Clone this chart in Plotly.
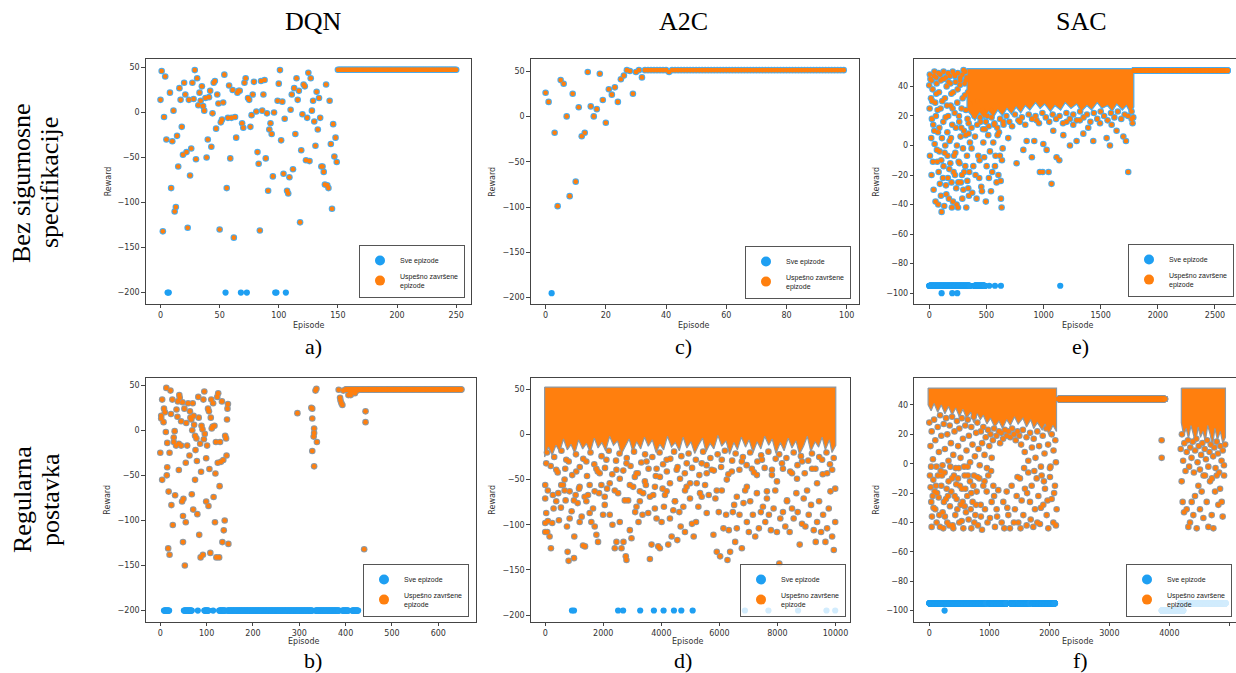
import plotly.graph_objects as go

W, H = 1236, 673
BLUE = '#1E9FF2'
ORANGE = '#FF7F0E'
RIM_BLUE = '#4AADEF'
RIM_GREY = '#8E99A3'

# ---------------- data ----------------
# a) DQN - bez sigurnosne specifikacije
a_ok = [(0,14),(1,46),(2,-132),(3,-5),(4,40),(5,-30),(8,22),(9,-84),(10,-32),(11,2),(12,-110),(13,-105),(14,-26),(15,-60),(16,27),(17,14),(18,-16),(19,-47),(20,33),(21,20),(22,-44),(23,-128),(24,14),(25,-70),(26,-40),(27,33),(28,15),(29,47),(30,-52),(31,38),(32,8),(33,22),(34,13),(35,29),(36,7),(37,2),(38,16),(39,-50),(40,-30),(41,17),(42,24),(43,-38),(44,-1),(45,33),(46,35),(47,-18),(48,20),(49,10),(50,-130),(51,-11),(52,-8),(53,11),(54,42),(56,-84),(57,-6),(58,30),(59,-51),(60,-6),(61,25),(62,-139),(63,-5),(64,-28),(65,22),(66,24),(67,24),(69,-12),(70,-17),(71,33),(72,38),(74,16),(75,14),(76,-16),(77,-3),(78,20),(79,34),(81,1),(82,-44),(83,-57),(84,-131),(85,35),(86,2),(87,20),(88,36),(89,-51),(90,-1),(91,-87),(92,-19),(93,-12),(94,-24),(95,-71),(96,0),(99,13),(100,32),(101,47),(102,-31),(103,12),(104,-68),(105,-7),(107,-87),(108,-90),(109,-72),(110,3),(111,20),(112,-63),(113,27),(114,-24),(115,38),(116,14),(117,24),(118,-122),(119,-42),(120,-2),(121,31),(122,29),(123,-53),(124,-6),(125,44),(126,-54),(127,38),(128,2),(129,13),(130,-10),(131,-37),(132,23),(133,-19),(134,16),(135,-6),(136,-60),(137,-60),(138,-66),(139,-80),(140,31),(141,-81),(142,-84),(143,13),(144,-35),(145,-107),(146,-13),(147,-49),(148,-28),(149,-55)]
a_ok_runs = [(150, 250, 47.4)]
a_fail = [(6,-200),(7,-200),(55,-200),(68,-200),(73,-200),(97,-200),(98,-200),(106,-200)]
a_fail_runs = []

# c) A2C - bez sigurnosne specifikacije
c_ok_x = [0,1,3,4,5,6,7,8,9,10,11,12,13,14,15,16,17,18,19,20,21,22,23,24,25,26,27,28,29,30,31,32,41]
c_ok_y = [26,16,-18,-99,40,36,0,-88,25,-72,10,-22,-18,49,11,0,8,47,18,-7,30,24,32,16,41,45,51,50,25,49,51,43,49]
c_ok_runs = [(33, 40, 51), (42, 99, 51)]
c_fail = [(2,-195)]
c_fail_runs = []

# e) SAC - bez sigurnosne specifikacije
e_ok = [(0,40.7),(6,-7),(15,32),(17,5),(23,18),(29,38),(35,14),(32,-11),(41,47),(47,1),(52,29),(58,20),(64,42),(70,-11),(76,9),(82,-18),(85,36),(90,-4),(93,-26),(99,25),(102,-34),(108,-45),(111,5),(117,45),(123,16),(125,-14),(131,-41),(137,32),(140,0),(146,-27),(152,40),(158,9),(160,-7),(166,20),(172,-36),(175,-16),(181,47),(187,27),(190,5),(195,-25),(201,14),(207,-38),(210,36),(216,-7),(222,22),(225,-20),(230,43),(236,-29),(242,0),(245,29),(251,-42),(257,-11),(262,16),(268,41),(274,6),(277,-25),(283,25),(289,-36),(295,-2),(300,51),(306,-18),(312,34),(318,7),(324,-42),(330,-7),(335,18),(341,-29),(347,-34),(356,2),(370,-2),(385,-14),(400,6),(414,-36),(429,-7),(437,-22),(449,16),(461,-31),(473,2),(487,11),(502,-14),(516,7),(531,-4),(540,-31),(551,-18),(560,2),(569,14),(580,-7),(589,-25),(598,7),(610,9),(618,-7),(627,-36),(633,-42),(642,-2),(648,16),
        (3,25),(10,45),(20,-20),(26,30),(38,-30),(44,10),(55,-38),(61,35),(67,-3),(73,24),(79,-40),(88,12),(96,48),(105,-10),(114,30),(120,-22),(128,45),(134,-5),(143,19),(149,-33),(155,27),(163,-22),(169,43),(178,3),(184,-12),(193,35),(198,-42),(204,25),(213,-18),(219,48),(228,-5),(233,12),(239,-40),(248,38),(254,-25),(260,20),(265,-12),(271,46),(280,12),(286,-20),(292,32),(298,-30),(303,10),(309,42),(315,-14),(321,24),(327,46),(333,-24),(338,36),(344,8),(350,-18),(362,28),(376,-32),(392,22),(405,-20),(420,30),(440,-10),(455,-28),(468,24),(480,-8),(495,-38),(508,20),(522,-22),(545,24),(575,-14),(605,-20),(625,-24),(636,-10),
        (5,48),(20,44),(45,50),(60,46),(80,49),(100,44),(125,50),(145,46),(165,49),(185,42),(205,50),(225,47),(250,49),(270,44),(290,48),(315,50),(320,44),
        (345,15),(370,12),(395,20),(420,14),(445,19),(470,11),(495,16),(520,13),(545,19),(570,15),(595,12),(620,18),(650,14),(675,20),(700,16),(725,13),(750,21),(780,17),(810,19),(840,14),(870,21),(900,18),(930,20),(960,15),(990,22),(1020,19),(1050,16),(1080,21),(1110,18),(1140,20),(1170,15),(1200,22),(1230,18),(1260,21),(1290,17),(1320,23),(1350,19),(1380,21),(1410,16),(1440,22),(1470,18),(1500,23),(1530,20),(1560,17),(1590,22),(1620,19),(1650,23),(1680,18),(1710,21),(1740,20),(1770,23),(1785,19),
        (691,5),(764,-12),(793,16),(823,-3),(852,3),(898,-8),(919,3),(939,17),(968,-18),(992,-18),(998,1),(1027,-3),(1044,-18),(1070,-26),(1085,10),(1114,-8),(1138,-10),(1173,7),(1202,16),(1231,0),(1260,14),(1289,3),(1318,17),(1348,8),(1391,12),(1435,3),(1494,15),(1552,5),(1581,0),(1596,14),(1639,10),(1698,6),(1721,3),(1741,-18),(1771,18),(1779,15)]
e_ok_runs = [(1790, 2611, 50.8)]
# saturated band of successful episodes, outline in (episode, reward)
e_dense = [[(330,52),(1790,52),(1790,26),(1760,22),(1725,27),(1690,24),(1640,28),(1600,23),(1560,27),(1510,25),(1470,29),(1420,24),(1380,27),(1330,23),(1290,28),(1240,25),(1190,29),(1150,24),(1100,27),(1060,23),(1010,28),(970,25),(930,29),(880,24),(840,27),(800,22),(760,26),(720,21),(680,25),(640,20),(600,24),(560,19),(520,23),(480,18),(440,22),(400,17),(360,21),(330,24)]]
e_fail = [(525,-95),(575,-95),(627,-95),(1146,-95),(108,-100),(201,-100),(245,-100)]
e_fail_runs = [(0, 356, -95), (394, 487, -95)]

# b) DQN - regularna postavka
b_ok = [(0,-25),(2,16),(2,13),(4,-55),(4,34),(7,9),(8,24),(10,20),(12,-2),(13,47),(14,-50),(15,-41),(15,-14),(17,-131),(18,-68),(20,-138),(20,-25),(22,44),(23,18),(24,-83),(26,34),(27,-105),(29,-13),(29,-8),(31,-1),(32,-72),(34,-17),(35,23),(37,15),(38,32),(40,-15),(40,-44),(41,39),(42,36),(45,10),(45,-17),(47,-79),(48,31),(49,-95),(49,-124),(50,-76),(52,24),(53,-150),(55,-36),(55,-102),(56,8),(58,-17),(60,30),(63,-28),(64,21),(65,14),(67,12),(68,-71),(69,0),(70,30),(71,-88),(72,16),(73,6),(75,-6),(75,-55),(76,-22),(78,-9),(79,-34),(80,-93),(82,37),(83,14),(84,-116),(86,-15),(87,-141),(88,-46),(89,5),(91,1),(92,-138),(93,34),(94,-10),(95,43),(96,-4),(99,-31),(99,-79),(101,-17),(103,24),(104,-84),(105,21),(106,-43),(108,-136),(109,14),(110,34),(111,2),(113,4),(114,30),(115,-74),(117,5),(118,-102),(119,-48),(120,-13),(121,-141),(123,37),(124,-36),(125,41),(127,-141),(128,-62),(129,-13),(131,-35),(133,32),(134,-124),(136,-33),(137,-111),(139,-100),(140,-6),(142,-9),(143,-28),(144,12),(145,24),(146,29),(147,-126),
        (296,19),(326,25),(328,24),(328,13),(328,-23),(331,-7),(332,2),(332,-3),(332,-40),(335,44),(337,46),(338,-13),
        (385,45),(388,36),(389,33),(391,30),(393,28),(395,44),(406,39),(411,39),(409,43),(414,43),(420,41),(425,44),(440,-132),(443,21),(443,9)]
b_ok_runs = [(400, 650, 45.2)]
b_fail = []
b_fail_runs = [(8,19,-200),(51,68,-200),(81,81,-200),(95,104,-200),(114,114,-200),(127,140,-200),(145,328,-200),(335,386,-200),(393,406,-200),(414,427,-200)]

# d) A2C - regularna postavka
d_ok = [(0,-56),(0,-71),(35,-87),(0,-98),(0,-108),(69,-108),(92,-96),(150,-113),(196,-126),(242,-98),(288,-82),(380,-74),(449,-65),(472,-95),(541,-81),(611,-56),(668,-62),(703,-73),(749,-102),(772,-130),(806,-140),(841,-93),(910,-85),(991,-137),(1002,-113),(1048,-67),(1117,-76),(1164,-60),(1187,-97),(1256,-91),(1302,-123),(1371,-124),(1417,-74),(1475,-67),(1532,-87),(1590,-97),(1647,-82),(1705,-102),(1763,-111),(1820,-119),(1855,-65),(1935,-56),(1993,-89),(2051,-78),(2131,-60),(2223,-89),(2316,-100),(2396,-126),(2454,-119),(2511,-65),(2569,-97),(2627,-126),(2696,-119),(2776,-135),(2799,-139),(2857,-73),(2915,-106),(2972,-115),(3030,-58),(3099,-86),(3145,-80),(3214,-97),(3260,-74),(3352,-89),(3375,-65),(3468,-56),(3548,-87),(3606,-138),(3663,-122),(3721,-67),(3778,-82),(3836,-93),(3894,-124),(3951,-126),(4009,-97),(4044,-60),(4090,-80),(4182,-63),(4239,-122),(4297,-93),(4355,-113),(4412,-84),(4470,-74),(4550,-117),(4620,-86),(4666,-102),(4758,-80),(4815,-108),(4873,-58),(4988,-71),(5057,-99),(5115,-113),(5196,-97),(5276,-80),(5334,-65),(5391,-69),(5507,-56),(5564,-87),(5633,-67),(5795,-111),(5864,-71),(5910,-130),(5979,-86),(6025,-135),(6083,-62),(6140,-104),(6232,-89),(6278,-139),(6325,-106),(6370,-130),(6463,-86),(6509,-78),(6544,-119),(6601,-104),(6693,-89),(6774,-126),(6831,-76),(6889,-62),(6947,-97),(7016,-108),(7062,-74),(7154,-89),(7235,-113),(7292,-65),(7361,-104),(7430,-86),(7500,-80),(7580,-97),(7638,-71),(7707,-89),(7776,-106),(7868,-82),(7926,-62),(7983,-108),(8064,-143),(8099,-93),(8191,-86),(8271,-102),(8329,-74),(8421,-108),(8502,-82),(8559,-93),(8652,-65),(8698,-86),(8767,-122),(8847,-99),(8905,-71),(8963,-102),(9078,-89),(9158,-78),(9251,-106),(9320,-119),(9366,-97),(9435,-74),(9504,-108),(9573,-89),(9654,-119),(9711,-104),(9769,-82),(9827,-63),(9884,-113),(9942,-128),(9990,-97),
        (91,-62),(264,-67),(552,-56),(667,-50),(840,-63),(990,-73),(1186,-58),(1359,-69),(1531,-56),(1704,-63),(1877,-43),(2050,-69),(2223,-54),(2396,-62),(2569,-49),(2742,-73),(2915,-56),(3088,-47),(3261,-63),(3434,-52),(3607,-69),(3780,-58),(3952,-47),(4125,-67),(4298,-54),(4471,-74),(4644,-49),(4817,-62),(4990,-54),
        (34,-32),(380,-39),(725,-28),(1071,-41),(1417,-30),(1762,-38),(2108,-28),(2454,-39),(2800,-32),(3146,-43),(3491,-30),(3837,-38),(4183,-28),(4529,-39),(4875,-32),
        (5219,-54),(5564,-43),(5910,-62),(6256,-50),(6601,-69),(6947,-58),(7293,-45),(7638,-63),(7984,-52),(8330,-73),(8675,-49),(9021,-62),(9366,-54),(9712,-43),(9990,-60),
        (5392,-32),(5737,-39),(6083,-28),(6429,-41),(6774,-30),(7120,-38),(7466,-28),(7811,-39),(8157,-32),(8503,-43),(8848,-30),(9194,-38),(9539,-28),(9885,-39),
        (60,-20),(190,-35),(310,-25),(430,-42),(560,-18),(690,-38),(810,-30),(930,-45),(1060,-22),(1190,-36),(1310,-27),(1440,-46),(1560,-20),(1690,-33),(1810,-41),(1940,-24),(2060,-37),(2190,-18),(2310,-44),(2440,-29),(2560,-21),(2690,-40),(2810,-26),(2940,-35),(3060,-19),(3190,-43),(3310,-31),(3440,-22),(3560,-38),(3690,-25),(3810,-46),(3940,-20),(4060,-33),(4190,-41),(4310,-27),(4440,-19),(4560,-36),(4690,-24),(4810,-43),(4940,-21),(5060,-37),(5190,-28),(5310,-45),(5440,-19),(5560,-34),(5690,-26),(5810,-40),(5940,-22),(6060,-36),(6190,-18),(6310,-44),(6440,-29),(6560,-21),(6690,-39),(6810,-25),(6940,-34),(7060,-20),(7190,-42),(7310,-30),(7440,-23),(7560,-37),(7690,-19),(7810,-45),(7940,-27),(8060,-22),(8190,-38),(8310,-26),(8440,-41),(8560,-20),(8690,-34),(8810,-24),(8940,-43),(9060,-29),(9190,-21),(9310,-38),(9440,-25),(9560,-44),(9690,-20),(9810,-33),(9940,-26)]
d_ok_runs = []
d_dense = [[(-20,52.5),(10010,52.5),(10010,-12),(9880,-20),(9790,-6),(9650,-17),(9540,-3),(9420,-14),(9300,-8),(9150,-19),(9030,-2),(8900,-13),(8760,-22),(8640,-7),(8500,-15),(8370,-4),(8230,-18),(8100,-9),(7950,-21),(7820,-5),(7700,-12),(7560,-2),(7430,-16),(7300,-8),(7160,-20),(7020,-6),(6900,-14),(6760,-3),(6620,-17),(6500,-9),(6350,-22),(6230,-7),(6080,-13),(5950,-1),(5810,-16),(5680,-10),(5540,-19),(5420,-4),(5280,-12),(5150,-21),(5020,-8),(4880,-15),(4750,-3),(4620,-18),(4480,-9),(4350,-14),(4210,-2),(4080,-17),(3950,-11),(3820,-20),(3690,-6),(3550,-13),(3420,-3),(3290,-16),(3150,-8),(3020,-19),(2890,-5),(2750,-14),(2620,-22),(2490,-7),(2350,-12),(2220,-2),(2080,-18),(1950,-9),(1820,-15),(1690,-4),(1550,-20),(1420,-10),(1290,-16),(1150,-6),(1020,-21),(890,-11),(760,-17),(630,-5),(500,-19),(370,-12),(240,-23),(110,-14),(-20,-25)]]
d_fail = [(922,-195),(991,-195),(2511,-195),(2684,-195),(3272,-195),(3744,-195),(4078,-195),(4435,-195),(4689,-195),(5080,-195),(6880,-195),(7690,-195),(8710,-195),(9690,-195),(9990,-195)]
d_fail_runs = []

# f) SAC - regularna postavka
f_ok = [(11,-8),(22,-16),(33,-26),(44,-36),(39,-43),(67,-11),(89,-19),(100,-31),(122,-40),(144,-8),(156,-23),(178,-43),(200,-15),(222,-33),(233,-44),(255,-6),(278,-24),(300,-40),(322,-12),(344,-29),(367,-19),(389,-42),(411,-8),(433,-35),(456,-24),(478,-10),(500,-40),(522,-28),(544,-17),(567,-44),(589,-8),(611,-33),(633,-22),(655,-38),(678,-12),(700,-44),(722,-26),(744,-8),(767,-35),(789,-19),(811,-42),(833,-10),(856,-28),(878,-45),(900,-15),(928,-31),(956,-19),(983,-8),(1011,-37),(1039,-26),(1067,-15),(1094,-43),(1122,-31),(1150,-18),(1206,-40),(1233,-26),(1289,-19),(1317,-35),(1344,-44),(1372,-15),(1428,-31),(1456,-22),(1483,-40),(1511,-10),(1539,-25),(1567,-35),(1594,-17),(1622,-42),(1650,-6),(1678,-26),(1706,-15),(1733,-43),(1761,-31),(1789,-10),(1817,-22),(1844,-41),(1872,-8),(1900,-28),(1928,-17),(1956,-35),(1983,-44),(2011,-9),(2039,-24),(2067,-40),(2094,-15),(2122,-31),
        (56,-22),(111,-15),(167,-35),(211,-8),(244,-26),(289,-17),(333,-42),(378,-10),(422,-22),(467,-31),(511,-15),(555,-26),(600,-17),(644,-8),(689,-31),(733,-15),(778,-28),
        (0,28),(20,12),(40,22),(60,3),(80,30),(100,16),(120,-2),(140,25),(160,8),(180,33),(200,19),(220,-1),(240,27),(260,10),(280,31),(300,20),(320,2),(340,26),(360,14),(380,32),(400,6),(420,22),(440,-3),(460,29),(480,12),(500,24),(520,4),(540,31),(560,17),(580,-2),(600,26),(620,9),(640,30),(660,19),(680,1),(700,25),(720,13),(740,32),(760,5),(780,21),(800,28),(820,10),(840,-1),(860,22),(880,14),(900,25),(920,6),(940,18),(960,-3),(980,23),(1000,12),(1020,20),(1040,4),(1060,16),(1080,24),(1120,19),(1160,22),(1180,14),(1200,21),(1230,17),(1260,23),(1290,19),(1320,22),(1350,18),(1380,24),(1410,20),(1440,16),(1470,22),(1500,19),(1530,13),(1560,23),(1590,8),(1620,18),(1650,2),(1680,21),(1710,11),(1740,17),(1770,4),(1800,22),(1830,12),(1860,-2),(1890,19),(1920,7),(1950,24),(1980,13),(2010,-3),(2040,20),(2070,9),(2100,16),(2110,1),
        (30,-2),(70,-30),(130,-20),(190,-5),(260,-36),(310,-22),(350,-2),(400,-44),(450,-14),(490,-3),(540,-39),(590,-29),(640,-2),(700,-20),(750,-40),(800,-9),(860,-36),(920,-12),(970,-40),(1030,-5),(1080,-22),(1130,-36),(1250,-44),(1300,-30),(1410,-40),(1470,-9),(1520,-44),(1580,-3),(1630,-20),(1690,-38),(1750,-5),(1800,-40),(1860,-30),(1910,-12),(1970,-25),(2020,-2),(2080,-20),(2110,-42),
        (3872,16),(3872,4),
        (4206,-12),(4222,-26),(4245,-33),(4289,-31),(4317,-43),(4345,-40),(4373,-26),(4400,-35),(4428,-22),(4456,-44),(4484,-15),(4511,-31),(4539,-19),(4567,-37),(4595,-8),(4623,-26),(4651,-43),(4678,-12),(4706,-35),(4734,-44),(4762,-19),(4790,-8),(4817,-28),(4845,-17),(4873,-26),(4889,-36),(4912,-8),
        (4190,10),(4210,20),(4230,2),(4250,14),(4270,-5),(4290,8),(4310,16),(4330,-2),(4350,11),(4370,4),(4390,15),(4410,-6),(4430,9),(4450,17),(4470,1),(4490,12),(4510,-4),(4530,6),(4550,14),(4570,-8),(4590,10),(4610,3),(4630,16),(4650,-2),(4670,8),(4690,13),(4710,-10),(4730,5),(4750,11),(4770,-3),(4790,15),(4810,7),(4830,-6),(4850,12),(4870,2),(4890,9),(4910,-1),(4930,13)]
f_ok_runs = [(2150, 3928, 44)]
f_dense = [[(-20,51.5),(2120,51.5),(2120,22),(2060,26),(1990,20),(1930,27),(1880,23),(1800,28),(1740,24),(1690,30),(1620,25),(1560,31),(1480,27),(1420,32),(1350,26),(1290,30),(1220,24),(1160,29),(1090,25),(1020,31),(960,27),(900,33),(850,30),(800,34),(740,28),(690,35),(620,31),(560,37),(500,32),(440,38),(380,33),(320,39),(260,34),(200,40),(140,35),(80,41),(30,36),(-20,40)],
           [(4200,51.5),(4935,51.5),(4935,18),(4890,14),(4850,22),(4800,16),(4760,24),(4720,12),(4680,20),(4640,26),(4600,15),(4560,22),(4520,18),(4480,25),(4440,14),(4400,21),(4360,26),(4320,17),(4280,24),(4240,19),(4200,28)]]
f_fail = [(255,-100)]
f_fail_runs = [(0,955,-95),(1000,1289,-95),(1356,1678,-95),(1722,2094,-95),(4178,4939,-95),(3872,4233,-100)]

col_titles = ['DQN', 'A2C', 'SAC']
row_titles = [('Bez sigurnosne', 'specifikacije'), ('Regularna', 'postavka')]
panel_labels = ['a)', 'c)', 'e)', 'b)', 'd)', 'f)']
legend_names = ['Sve epizode', 'Uspešno završene<br>epizode']
x_title, y_title = 'Episode', 'Reward'


def expand_runs(runs):
    xs, ys = [], []
    for start, end, val in runs:
        for ep in range(start, end + 1):
            xs.append(ep)
            ys.append(val)
    return xs, ys


def pairs(p):
    return [q[0] for q in p], [q[1] for q in p]


a_x, a_y = pairs(a_ok)
e_x, e_y = pairs(e_ok)
b_x, b_y = pairs(b_ok)
d_x, d_y = pairs(d_ok)
f_x, f_y = pairs(f_ok)

panels = [
    dict(ok=(a_x, a_y), runs=a_ok_runs, dense=[], fail=a_fail, fruns=a_fail_runs, rim=RIM_BLUE,
         px=(145.7, 471.0, 59, 303.7), xr=[-12.5, 262.5], yr=[-212.35, 59.35], xd=50, yd=50, y0=-200,
         leg=(465, 298), ytx=108, etx=308, ety=325),
    dict(ok=(c_ok_x, c_ok_y), runs=c_ok_runs, dense=[], fail=c_fail, fruns=c_fail_runs, rim=RIM_BLUE,
         px=(530.7, 858.6, 59, 304.3), xr=[-4.95, 103.95], yr=[-207.3, 63.3], xd=20, yd=50, y0=-200,
         leg=(851, 299), ytx=493, etx=693, ety=325),
    dict(ok=(e_x, e_y), runs=e_ok_runs, dense=e_dense, fail=e_fail, fruns=e_fail_runs, rim=RIM_BLUE,
         px=(914.3, 1236, 59, 304.3), xr=[-131, 2684], yr=[-107.55, 58.55], xd=500, yd=20, y0=-100,
         leg=(1234, 297), ytx=877, etx=1077, ety=325),
    dict(ok=(b_x, b_y), runs=b_ok_runs, dense=[], fail=b_fail, fruns=b_fail_runs, rim=RIM_GREY,
         px=(145.7, 476.0, 377.7, 621.7), xr=[-31.5, 681.4], yr=[-212.3, 58.3], xd=100, yd=50, y0=-200,
         leg=(469, 617), ytx=108, etx=303, ety=641),
    dict(ok=(d_x, d_y), runs=d_ok_runs, dense=d_dense, fail=d_fail, fruns=d_fail_runs, rim=RIM_GREY,
         px=(530.7, 850.0, 377.7, 621.7), xr=[-500, 10500], yr=[-207.4, 62.9], xd=2000, yd=50, y0=-200,
         leg=(846, 617), ytx=493, etx=687, ety=641),
    dict(ok=(f_x, f_y), runs=f_ok_runs, dense=f_dense, fail=f_fail, fruns=f_fail_runs, rim=RIM_GREY,
         px=(914.3, 1236, 377.7, 621.7), xr=[-250, 5111], yr=[-107.55, 58.55], xd=1000, yd=20, y0=-100,
         leg=(1232, 617), ytx=877, etx=1077, ety=641),
]

fig = go.Figure()
layout = dict(width=W, height=H, margin=dict(l=0, r=0, t=0, b=0, autoexpand=False),
              paper_bgcolor='white', plot_bgcolor='white', showlegend=True)
annotations = []
TICKFONT = dict(family='DejaVu Sans', size=8, color='#333')
SMALL = dict(family='DejaVu Sans', size=8, color='#333')


def ann(text, px, py, font, angle=0):
    return dict(text=text, x=px / W, y=1 - py / H, xref='paper', yref='paper', showarrow=False,
                xanchor='center', yanchor='middle', textangle=angle, font=font)


for i, p in enumerate(panels):
    k = i + 1
    xa = 'x' if k == 1 else f'x{k}'
    ya = 'y' if k == 1 else f'y{k}'
    leg = 'legend' if k == 1 else f'legend{k}'
    ox, oy = p['ok']
    rx, ry = expand_runs(p['runs'])
    okx, oky = list(ox) + rx, list(oy) + ry
    fx = [q[0] for q in p['fail']]
    fy = [q[1] for q in p['fail']]
    frx, fry = expand_runs(p['fruns'])
    fx += frx
    fy += fry

    fig.add_trace(go.Scatter(x=okx, y=oky, mode='markers', xaxis=xa, yaxis=ya, showlegend=False,
                             marker=dict(size=6.6, color=p['rim'], line=dict(width=0)), hoverinfo='skip'))
    fig.add_trace(go.Scatter(x=fx, y=fy, mode='markers', xaxis=xa, yaxis=ya, showlegend=False,
                             marker=dict(size=6.2, color=BLUE, line=dict(width=0)), hoverinfo='skip'))
    for poly in p['dense']:
        px_, py_ = pairs(poly)
        fig.add_trace(go.Scatter(x=px_ + [px_[0]], y=py_ + [py_[0]], mode='lines', fill='toself',
                                 fillcolor=ORANGE, line=dict(color=p['rim'], width=1.2),
                                 xaxis=xa, yaxis=ya, showlegend=False, hoverinfo='skip'))
    fig.add_trace(go.Scatter(x=okx, y=oky, mode='markers', xaxis=xa, yaxis=ya, showlegend=False,
                             marker=dict(size=4.6, color=ORANGE, line=dict(width=0)), hoverinfo='skip'))
    fig.add_trace(go.Scatter(x=[None], y=[None], mode='markers', xaxis=xa, yaxis=ya, legend=leg,
                             name=legend_names[0], marker=dict(size=10, color=BLUE)))
    fig.add_trace(go.Scatter(x=[None], y=[None], mode='markers', xaxis=xa, yaxis=ya, legend=leg,
                             name=legend_names[1], marker=dict(size=10, color=ORANGE)))

    x0, x1, ytop, ybot = p['px']
    axis_common = dict(showline=True, mirror=True, linecolor='#444', linewidth=1, showgrid=False,
                       zeroline=False, ticks='outside', ticklen=3.5, tickwidth=0.8, tickcolor='#444',
                       tickfont=TICKFONT, tickmode='linear', exponentformat='none', separatethousands=False)
    layout['xaxis' if k == 1 else f'xaxis{k}'] = dict(
        axis_common, domain=[x0 / W, min(x1 / W, 1.0)], range=p['xr'], tick0=0, dtick=p['xd'], anchor=ya,
        tickformat='d')
    layout['yaxis' if k == 1 else f'yaxis{k}'] = dict(
        axis_common, domain=[1 - ybot / H, 1 - ytop / H], range=p['yr'], tick0=p['y0'], dtick=p['yd'], anchor=xa)
    lx, ly = p['leg']
    layout[leg] = dict(x=lx / W, y=1 - ly / H, xanchor='right', yanchor='bottom',
                       bgcolor='rgba(255,255,255,0.8)', bordercolor='#555', borderwidth=1,
                       font=dict(family='Liberation Sans', size=7, color='#222'),
                       itemwidth=30, tracegroupgap=2)
    annotations.append(ann(y_title, p['ytx'], (ytop + ybot) / 2, SMALL, -90))
    annotations.append(ann(x_title, p['etx'], p['ety'], SMALL))

SERIF = dict(family='Liberation Serif', size=26, color='black')
LABEL = dict(family='Liberation Serif', size=22, color='black')
for t, cx in zip(col_titles, [313, 683, 1081]):
    annotations.append(ann(t, cx, 22, SERIF))
for (l1, l2), cy in zip(row_titles, [183, 500]):
    annotations.append(ann(l1, 22, cy, SERIF, -90))
    annotations.append(ann(l2, 50, cy, SERIF, -90))
for lab, (cx, cy) in zip(panel_labels, [(313, 347), (683, 347), (1080, 347), (313, 660), (683, 660), (1080, 660)]):
    annotations.append(ann(lab, cx, cy, LABEL))

layout['annotations'] = annotations
fig.update_layout(**layout)
fig.write_html('out.html', config={'displayModeBar': False},
               post_script="document.body.style.margin='0';document.body.style.overflow='hidden';")
